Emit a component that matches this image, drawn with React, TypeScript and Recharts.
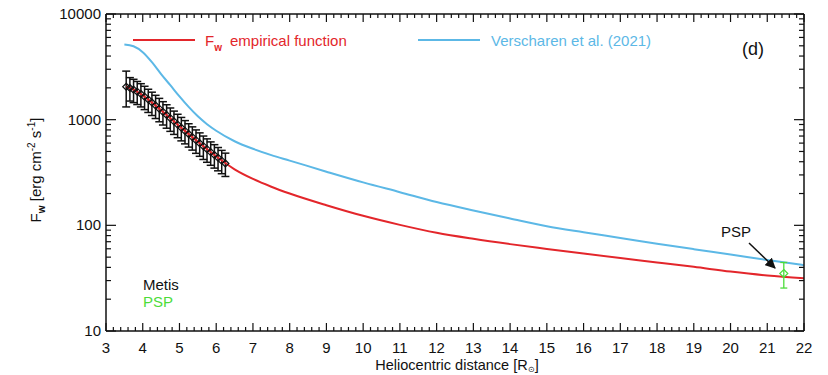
import React from 'react';
import { ComposedChart, Line, Scatter, ErrorBar, XAxis, YAxis } from 'recharts';

const font = '"Liberation Sans", Arial, sans-serif';
const RED = '#e3262b';
const BLUE = '#5cb8e6';
const GREEN = '#4cdc3a';

// F_w empirical function (red curve)
const fitR = [3.55, 3.75, 4, 4.5, 5, 5.5, 6, 6.5, 7, 7.5, 8, 9, 10, 11, 12, 13, 14, 15, 16, 17, 18, 19, 20, 21, 22];
const fitF = [2050, 1923, 1700, 1228, 868, 618, 450, 339, 275, 232, 200, 155, 123, 101, 85, 74.5, 66.4, 59.8, 54, 49, 44.6, 40.5, 36.5, 33.5, 31.5];

// Verscharen et al. (2021) (blue curve)
const modelR = [3.5, 3.75, 4, 4.25, 4.5, 4.75, 5, 5.25, 5.5, 5.75, 6, 6.5, 7, 7.5, 8, 9, 10, 11, 12, 13, 14, 15, 16, 17, 18, 19, 20, 21, 22];
const modelF = [5150, 4950, 4350, 3500, 2700, 2120, 1660, 1320, 1075, 905, 785, 625, 530, 462, 410, 322, 255, 206, 166, 138, 116, 98, 86, 76, 67, 59.5, 53, 47, 42];

// Metis points with error bar bounds
const metisR = [3.55, 3.65, 3.75, 3.85, 3.95, 4.05, 4.15, 4.25, 4.35, 4.45, 4.55, 4.65, 4.75, 4.85, 4.95, 5.05, 5.15, 5.25, 5.35, 5.45, 5.55, 5.65, 5.75, 5.85, 5.95, 6.05, 6.15, 6.25];
const metisF = [2050, 1995, 1923, 1841, 1750, 1652, 1552, 1455, 1361, 1271, 1186, 1107, 1033, 964, 899, 839, 783, 731, 684, 640, 598, 561, 526, 493, 463, 436, 409, 385];
const metisLo = [1320, 1500, 1450, 1390, 1320, 1245, 1170, 1095, 1025, 955, 890, 830, 775, 725, 675, 630, 590, 550, 515, 480, 450, 420, 395, 370, 348, 328, 308, 290];
const metisHi = [2880, 2500, 2410, 2300, 2190, 2070, 1940, 1820, 1700, 1590, 1480, 1385, 1290, 1205, 1125, 1050, 980, 915, 855, 800, 750, 700, 658, 616, 580, 545, 512, 482];

// PSP point
const pspR = [21.45];
const pspF = [35];
const pspLo = [25.5];
const pspHi = [44.5];

const yMajor = [10, 100, 1000, 10000];
const yTicks = [10, 20, 30, 40, 50, 60, 70, 80, 90, 100, 200, 300, 400, 500, 600, 700, 800, 900, 1000, 2000, 3000, 4000, 5000, 6000, 7000, 8000, 9000, 10000];
const xMajor = [3, 4, 5, 6, 7, 8, 9, 10, 11, 12, 13, 14, 15, 16, 17, 18, 19, 20, 21, 22];
const xTicks = xMajor.flatMap((v, i) =>
  i === xMajor.length - 1 ? [v] : [v, v + 0.2, v + 0.4, v + 0.6, v + 0.8].map((t) => +t.toFixed(1))
);

const fitData = fitR.map((r, i) => ({ r, f: fitF[i] }));
const modelData = modelR.map((r, i) => ({ r, f: modelF[i] }));
const metisData = metisR.map((r, i) => ({ r, f: metisF[i], err: [metisF[i] - metisLo[i], metisHi[i] - metisF[i]] }));
const pspData = pspR.map((r, i) => ({ r, f: pspF[i], err: [pspF[i] - pspLo[i], pspHi[i] - pspF[i]] }));

const isMajorX = (v: number) => Number.isInteger(v);
const isMajorY = (v: number) => yMajor.includes(v);

const BottomTick = (p: any) => {
  const major = isMajorX(p.payload.value);
  return (
    <g>
      <line x1={p.x} x2={p.x} y1={p.y} y2={p.y - (major ? 8 : 4)} stroke="#111" strokeWidth={1.2} />
      {major && (
        <text x={p.x} y={p.y + 22} textAnchor="middle" fontSize={15} fontFamily={font} fill="#111">
          {p.payload.value}
        </text>
      )}
    </g>
  );
};

const TopTick = (p: any) => {
  const major = isMajorX(p.payload.value);
  return <line x1={p.x} x2={p.x} y1={p.y} y2={p.y + (major ? 8 : 4)} stroke="#111" strokeWidth={1.2} />;
};

const LeftTick = (p: any) => {
  const major = isMajorY(p.payload.value);
  return (
    <g>
      <line x1={p.x} x2={p.x + (major ? 10 : 5)} y1={p.y} y2={p.y} stroke="#111" strokeWidth={1.2} />
      {major && (
        <text x={p.x - 5} y={p.y + 5} textAnchor="end" fontSize={15} fontFamily={font} fill="#111">
          {p.payload.value}
        </text>
      )}
    </g>
  );
};

const RightTick = (p: any) => {
  const major = isMajorY(p.payload.value);
  return <line x1={p.x} x2={p.x - (major ? 10 : 5)} y1={p.y} y2={p.y} stroke="#111" strokeWidth={1.2} />;
};

const diamond = (color: string, r: number) => (p: any) => {
  const { cx, cy } = p;
  if (cx == null || cy == null) return <g />;
  return (
    <path
      d={`M${cx},${cy - r}L${cx + r},${cy}L${cx},${cy + r}L${cx - r},${cy}Z`}
      fill="none"
      stroke={color}
      strokeWidth={1.2}
    />
  );
};

const axisLine = { stroke: '#111', strokeWidth: 1.5 };

export default function App() {
  return (
    <div style={{ position: 'absolute', left: 0, top: 0, width: 828, height: 375, background: '#fff' }}>
      <ComposedChart width={828} height={375} margin={{ top: 13, right: 23, bottom: 24, left: 46 }}>
        <XAxis
          xAxisId="b"
          dataKey="r"
          type="number"
          domain={[3, 22]}
          ticks={xTicks}
          interval={0}
          allowDataOverflow
          height={20}
          tickSize={0}
          tickMargin={0}
          tickLine={false}
          axisLine={axisLine}
          tick={<BottomTick />}
        />
        <XAxis
          xAxisId="t"
          orientation="top"
          dataKey="r"
          type="number"
          domain={[3, 22]}
          ticks={xTicks}
          interval={0}
          allowDataOverflow
          height={1}
          tickSize={0}
          tickMargin={0}
          tickLine={false}
          axisLine={axisLine}
          tick={<TopTick />}
        />
        <YAxis
          yAxisId="l"
          type="number"
          scale="log"
          domain={[10, 10000]}
          ticks={yTicks}
          interval={0}
          allowDataOverflow
          width={60}
          tickSize={0}
          tickMargin={0}
          tickLine={false}
          axisLine={axisLine}
          tick={<LeftTick />}
        />
        <YAxis
          yAxisId="r"
          orientation="right"
          type="number"
          scale="log"
          domain={[10, 10000]}
          ticks={yTicks}
          interval={0}
          allowDataOverflow
          width={1}
          tickSize={0}
          tickMargin={0}
          tickLine={false}
          axisLine={axisLine}
          tick={<RightTick />}
        />
        <Scatter
          xAxisId="b"
          yAxisId="l"
          data={metisData}
          dataKey="f"
          shape={diamond('#111', 3.5)}
          isAnimationActive={false}
        >
          <ErrorBar dataKey="err" direction="y" width={4} stroke="#111" strokeWidth={1.5} isAnimationActive={false} />
        </Scatter>
        <Line
          xAxisId="b"
          yAxisId="l"
          data={modelData}
          dataKey="f"
          type="monotone"
          stroke={BLUE}
          strokeWidth={2}
          dot={false}
          isAnimationActive={false}
        />
        <Line
          xAxisId="b"
          yAxisId="l"
          data={fitData}
          dataKey="f"
          type="monotone"
          stroke={RED}
          strokeWidth={2}
          dot={false}
          isAnimationActive={false}
        />
        <Scatter
          xAxisId="b"
          yAxisId="l"
          data={pspData}
          dataKey="f"
          shape={diamond(GREEN, 4)}
          isAnimationActive={false}
        >
          <ErrorBar dataKey="err" direction="y" width={3.5} stroke={GREEN} strokeWidth={1.3} isAnimationActive={false} />
        </Scatter>
      </ComposedChart>

      <svg
        width={828}
        height={375}
        style={{ position: 'absolute', left: 0, top: 0, pointerEvents: 'none' }}
        fontFamily={font}
      >
        <defs>
          <marker id="head" viewBox="0 0 10 10" refX="9" refY="5" markerWidth="7" markerHeight="7" orient="auto">
            <path d="M0,0L10,5L0,10Z" fill="#111" />
          </marker>
        </defs>

        {/* legend */}
        <line x1={133} x2={195} y1={40} y2={40} stroke={RED} strokeWidth={2} />
        <text x={205} y={46} fontSize={15} fill={RED}>
          F<tspan fontSize={10} fontWeight="bold" dy={5}>w</tspan>
        </text>
        <text x={230} y={46} fontSize={15} fill={RED}>empirical function</text>
        <line x1={418} x2={480} y1={40} y2={40} stroke={BLUE} strokeWidth={2} />
        <text x={491} y={46} fontSize={15} fill={BLUE}>Verscharen et al. (2021)</text>
        <text x={742} y={55} fontSize={18} fill="#111">(d)</text>

        <text x={143} y={290} fontSize={15} fill="#111">Metis</text>
        <text x={143} y={307} fontSize={15} fill={GREEN}>PSP</text>

        <text x={721} y={237} fontSize={15} fill="#111">PSP</text>
        <line x1={749} y1={243} x2={775} y2={268} stroke="#111" strokeWidth={1.5} markerEnd="url(#head)" />

        {/* axis titles */}
        <text transform="translate(41,170) rotate(-90)" textAnchor="middle" fontSize={15} fill="#111">
          F<tspan fontSize={10} fontWeight="bold" dy={4}>w</tspan>
          <tspan dy={-4}> [erg cm</tspan>
          <tspan fontSize={10} dy={-6}>-2</tspan>
          <tspan dy={6}> s</tspan>
          <tspan fontSize={10} dy={-6}>-1</tspan>
          <tspan dy={6}>]</tspan>
        </text>
        <text x={457} y={370} textAnchor="middle" fontSize={14.5} fill="#111">
          Heliocentric distance [R<tspan fontSize={8} dy={2}>⊙</tspan>
          <tspan dy={-2}>]</tspan>
        </text>
      </svg>
    </div>
  );
}
